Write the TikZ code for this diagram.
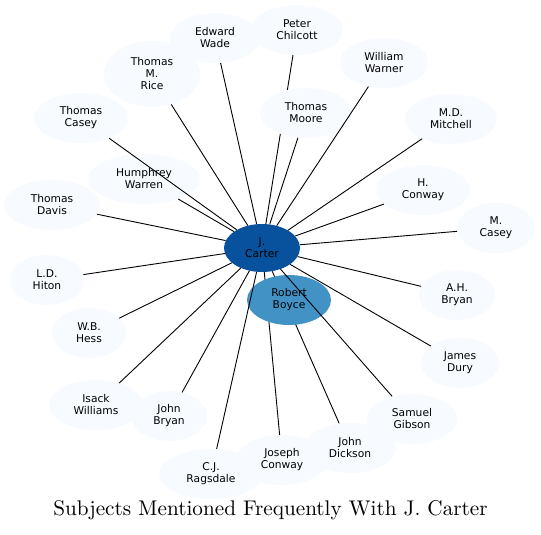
\documentclass[tikz,border=0pt]{standalone}
\usepackage{fontspec}
\usetikzlibrary{shapes.geometric}
\newfontfamily\labelfont{DejaVu Sans}
\newfontfamily\titlefont{lmroman10-regular.otf}
\definecolor{nodepale}{HTML}{F7FBFF}
\definecolor{centerblue}{HTML}{08519C}
\definecolor{midblue}{HTML}{4292C6}
\pgfdeclarelayer{bg}
\pgfsetlayers{bg,main}

\begin{document}
\begin{tikzpicture}[x=1pt,y=-1pt,
  subj/.style={ellipse,fill=nodepale,inner sep=0pt,minimum height=50pt,align=center,
    font=\labelfont\fontsize{10.7}{12}\selectfont},
  link/.style={black,line width=0.9pt}]
  \useasboundingbox (0,0) rectangle (541,535);
  % the centre and the closest subject
  \node[subj,fill=centerblue,minimum width=76pt,minimum height=48pt] (carter) at (262,248) {J.\\Carter};
  \node[subj,fill=midblue,minimum width=84pt] (boyce) at (289,300) {Robert\\Boyce};
  % upper half
  \node[subj,minimum width=90pt] (wade) at (215,38) {Edward\\Wade};
  \node[subj,minimum width=92pt] (chilcott) at (297,30) {Peter\\Chilcott};
  \node[subj,minimum width=96pt,minimum height=66pt] (rice) at (152,74) {Thomas\\M.\\Rice};
  \node[subj,minimum width=94pt] (tcasey) at (81,118) {Thomas\\Casey};
  \node[subj,minimum width=112pt] (warren) at (144,179) {Humphrey\\Warren};
  \node[subj,minimum width=96pt] (davis) at (52,205) {Thomas\\Davis};
  \node[subj,minimum width=92pt] (moore) at (306,113) {Thomas\\Moore};
  \node[subj,minimum width=88pt] (warner) at (384,63) {William\\Warner};
  \node[subj,minimum width=92pt] (mitchell) at (451,119) {M.D.\\Mitchell};
  \node[subj,minimum width=94pt] (hconway) at (423,190) {H.\\Conway};
  \node[subj,minimum width=78pt] (mcasey) at (496,228) {M.\\Casey};
  % lower half
  \node[subj,minimum width=74pt] (hiton) at (47,280) {L.D.\\Hiton};
  \node[subj,minimum width=74pt] (hess) at (89,333) {W.B.\\Hess};
  \node[subj,minimum width=94pt] (williams) at (96,405) {Isack\\Williams};
  \node[subj,minimum width=76pt] (jbryan) at (169,416) {John\\Bryan};
  \node[subj,minimum width=104pt] (ragsdale) at (211,474) {C.J.\\Ragsdale};
  \node[subj,minimum width=92pt] (jconway) at (282,460) {Joseph\\Conway};
  \node[subj,minimum width=92pt] (dickson) at (350,448) {John\\Dickson};
  \node[subj,minimum width=90pt] (gibson) at (412,419) {Samuel\\Gibson};
  \node[subj,minimum width=78pt] (dury) at (460,363) {James\\Dury};
  \node[subj,minimum width=76pt] (ahbryan) at (457,295) {A.H.\\Bryan};
  % edges hidden behind other nodes
  \begin{pgfonlayer}{bg}
    \foreach \n in {chilcott,jconway,dickson}
      \draw[link] (carter) -- (\n);
  \end{pgfonlayer}
  \foreach \n in {wade,rice,tcasey,warren,davis,moore,warner,mitchell,hconway,mcasey,
                  hiton,hess,williams,jbryan,ragsdale,gibson,dury,ahbryan}
    \draw[link] (carter) -- (\n);
  \node[anchor=base,font=\titlefont\fontsize{21.2}{25}\selectfont] (title) at (270.5,515)
    {Subjects Mentioned Frequently With J. Carter};
\end{tikzpicture}
\end{document}
